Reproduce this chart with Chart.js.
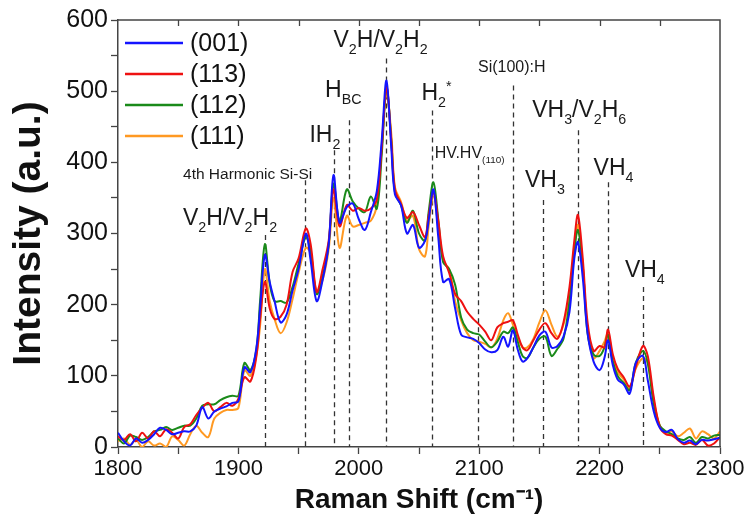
<!DOCTYPE html>
<html>
<head>
<meta charset="utf-8">
<script src="https://cdn.jsdelivr.net/npm/chart.js@4.4.1/dist/chart.umd.min.js"></script>
<style>
  html, body { margin: 0; padding: 0; background: #fff; }
</style>
</head>
<body>
<canvas id="ramanChart" width="751" height="521"></canvas>
<script>
// Raman shift grid (cm-1), shared by all four spectra
const shift = [
  1800, 1805, 1810, 1815, 1820, 1825, 1830, 1835, 1840, 1845,
  1850, 1855, 1860, 1865, 1870, 1875, 1880, 1885, 1890, 1895,
  1900, 1905, 1910, 1915, 1918, 1922, 1926, 1930, 1935, 1940,
  1945, 1950, 1956, 1960, 1965, 1970, 1975, 1979, 1984, 1990,
  1995, 2000, 2005, 2010, 2015, 2019, 2023, 2027, 2030, 2035,
  2040, 2045, 2050, 2055, 2058, 2062, 2066, 2070, 2075, 2080,
  2085, 2090, 2095, 2100, 2105, 2110, 2115, 2120, 2124, 2128,
  2132, 2136, 2140, 2145, 2150, 2155, 2160, 2165, 2170, 2175,
  2179, 2182, 2186, 2190, 2195, 2200, 2204, 2207, 2211, 2215,
  2220, 2225, 2230, 2236, 2240, 2245, 2250, 2255, 2260, 2265,
  2270, 2275, 2280, 2285, 2290, 2295, 2300
];

const labels = ['(001)', '(113)', '(112)', '(111)'];

const i001 = [
  20, 8, 2, 12, 6, 10, 18, 27, 24, 18,
  20, 22, 22, 30, 56, 40, 50, 54, 57, 62,
  64, 112, 105, 140, 195, 270, 232, 205, 175, 186,
  220, 250, 300, 262, 205, 235, 285, 382, 315, 337,
  342, 320, 305, 330, 360, 430, 515, 420, 355, 340,
  300, 312, 280, 290, 318, 362, 295, 232, 236, 195,
  158, 154, 152, 146, 137, 133, 136, 155, 141, 164,
  137, 120, 125, 140, 157, 162, 140, 142, 155, 190,
  265, 288, 238, 160, 120, 108, 125, 150, 115, 95,
  88, 75, 118, 128, 94, 50, 27, 21, 24, 11,
  6, 9, 4, 10, 9, 11, 13
];

const i113 = [
  15, 10, 18, 8, 20, 12, 22, 15, 25, 20,
  12, 28, 32, 45, 55, 62, 50, 56, 62, 58,
  68, 98, 92, 128, 180, 232, 195, 180, 183, 200,
  246, 265, 307, 285, 218, 250, 290, 362, 310, 340,
  332, 336, 332, 335, 348, 420, 505, 430, 362, 342,
  322, 330, 312, 295, 325, 358, 318, 268, 245, 215,
  205, 190, 180, 172, 162, 150, 168, 174, 176, 178,
  158, 140, 136, 150, 165, 174, 160, 152, 175, 225,
  290, 326, 265, 175, 135, 142, 140, 165, 130, 110,
  98, 85, 112, 142, 128, 70, 28, 18, 16, 10,
  4, 6, 3, 10, 2, 5, 14
];

const i112 = [
  12, 5, 16, 14, 10, 14, 22, 24, 28, 24,
  27, 30, 30, 40, 58, 60, 60, 66, 70, 72,
  72, 118, 108, 138, 205, 285, 230, 205, 205, 203,
  225, 258, 295, 275, 215, 240, 285, 370, 318, 362,
  345, 335, 330, 352, 335, 410, 505, 430, 358, 340,
  315, 332, 300, 290, 330, 372, 320, 260, 250, 228,
  182, 165, 160, 158, 148, 140, 148, 162, 160, 168,
  148, 128, 125, 140, 152, 155, 128, 138, 152, 205,
  275, 305, 255, 160, 130, 128, 140, 158, 120, 100,
  90, 80, 118, 135, 118, 60, 30, 22, 18, 12,
  10, 14, 6, 14, 12, 16, 17
];

const i111 = [
  8, 12, 3, 10, 0, 8, 2, 5, 0, 15,
  10, 2, 18, 30, 20, 14, 40, 48, 52, 52,
  55, 108, 100, 130, 170, 250, 205, 180, 160, 175,
  208, 245, 280, 272, 218, 235, 278, 350, 280, 325,
  310, 312, 315, 318, 340, 420, 498, 440, 365, 345,
  318, 325, 278, 268, 310, 352, 310, 262, 250, 205,
  178, 160, 150, 148, 145, 140, 152, 178, 188, 172,
  155, 140, 140, 152, 175, 192, 172, 155, 172, 215,
  280, 312, 255, 165, 125, 135, 148, 160, 125, 105,
  95, 82, 110, 125, 118, 65, 30, 20, 22, 15,
  20, 26, 12, 22, 18, 12, 22
];

// assigned vibrational modes: position of dashed marker and its label
const markShift = [1922, 1955, 1979, 1992, 2023, 2061, 2099, 2128, 2153, 2182, 2207, 2236];
const markText = ['V_2H/V_2H_2', '4th Harmonic Si-Si', 'IH_2', 'H_{BC}', 'V_2H/V_2H_2', 'H_2^*',
  'HV.HV_{(110)}', 'Si(100):H', 'VH_3', 'VH_3/V_2H_6', 'VH_4', 'VH_4'];

// where each marker line starts and where its label sits (axis units)
const noteLayout = [
  { top: 298, tx: 1854, ty: 312, size: 23 },
  { top: 375, tx: 1854, ty: 377, size: 15.5 },
  { top: 417, tx: 1959, ty: 428, size: 23 },
  { top: 459, tx: 1972, ty: 492, size: 23 },
  { top: 546, tx: 1979, ty: 562, size: 23 },
  { top: 473, tx: 2052, ty: 487, size: 23 },
  { top: 396, tx: 2063, ty: 406, size: 16 },
  { top: 508, tx: 2099, ty: 527, size: 16 },
  { top: 347, tx: 2138, ty: 365, size: 23 },
  { top: 445, tx: 2144, ty: 463, size: 23 },
  { top: 372, tx: 2195, ty: 382, size: 23 },
  { top: 225, tx: 2221, ty: 239, size: 23 }
];

const FONT = '"Liberation Sans", Arial, sans-serif';
const colors = ['#1414ff', '#ee1111', '#1a8a1a', '#ff9922'];

function toPoints(vals) {
  return vals.map((v, i) => ({ x: shift[i], y: v }));
}

// draw text with _sub and ^sup parts
function drawRich(ctx, str, x, y, size) {
  let i = 0, cx = x;
  while (i < str.length) {
    const ch = str[i];
    if (ch === '_' || ch === '^') {
      i++;
      let t;
      if (str[i] === '{') {
        const j = str.indexOf('}', i);
        t = str.slice(i + 1, j);
        i = j + 1;
      } else {
        t = str[i];
        i++;
      }
      ctx.font = (size * 0.62) + 'px ' + FONT;
      ctx.fillText(t, cx, ch === '_' ? y + size * 0.3 : y - size * 0.42);
      cx += ctx.measureText(t).width;
    } else {
      let j = i;
      while (j < str.length && str[j] !== '_' && str[j] !== '^') j++;
      const t = str.slice(i, j);
      i = j;
      ctx.font = size + 'px ' + FONT;
      ctx.fillText(t, cx, y);
      cx += ctx.measureText(t).width;
    }
  }
}

const decor = {
  id: 'decor',
  beforeDatasetsDraw(chart) {
    const { ctx, chartArea: a, scales: { x, y } } = chart;
    ctx.save();
    ctx.strokeStyle = '#333';
    ctx.lineWidth = 1.3;
    ctx.setLineDash([5, 4]);
    markShift.forEach((s, i) => {
      const px = Math.round(x.getPixelForValue(s)) + 0.5;
      ctx.beginPath();
      ctx.moveTo(px, y.getPixelForValue(noteLayout[i].top));
      ctx.lineTo(px, a.bottom);
      ctx.stroke();
    });
    ctx.restore();
  },
  afterDraw(chart) {
    const { ctx, chartArea: a, scales: { x, y } } = chart;
    ctx.save();
    // top and right frame, inward ticks on top
    ctx.strokeStyle = '#444';
    ctx.lineWidth = 1.5;
    ctx.beginPath();
    ctx.moveTo(a.left, a.top);
    ctx.lineTo(a.right, a.top);
    ctx.lineTo(a.right, a.bottom);
    ctx.stroke();
    ctx.lineWidth = 1.3;
    for (let v = 1850; v < 2300; v += 50) {
      const px = Math.round(x.getPixelForValue(v)) + 0.5;
      ctx.beginPath();
      ctx.moveTo(px, a.top);
      ctx.lineTo(px, a.top + 6);
      ctx.stroke();
    }
    // mode labels
    ctx.fillStyle = '#1a1a1a';
    ctx.textBaseline = 'alphabetic';
    ctx.textAlign = 'left';
    markText.forEach((t, i) => {
      const n = noteLayout[i];
      drawRich(ctx, t, x.getPixelForValue(n.tx), y.getPixelForValue(n.ty), n.size);
    });
    // legend inside the plot
    ctx.textBaseline = 'middle';
    chart.data.datasets.forEach((ds, i) => {
      const yy = a.top + 23 + i * 31;
      ctx.strokeStyle = ds.borderColor;
      ctx.lineWidth = 2.5;
      ctx.beginPath();
      ctx.moveTo(a.left + 7, yy);
      ctx.lineTo(a.left + 65, yy);
      ctx.stroke();
      ctx.fillStyle = '#111';
      ctx.font = '25px ' + FONT;
      ctx.fillText(ds.label, a.left + 72, yy + 1);
    });
    ctx.restore();
  }
};

const series = [i001, i113, i112, i111];

new Chart(document.getElementById('ramanChart'), {
  type: 'line',
  data: {
    datasets: series.map((vals, i) => ({
      label: labels[i],
      data: toPoints(vals),
      borderColor: colors[i],
      backgroundColor: colors[i],
      borderWidth: 2,
      pointRadius: 0,
      tension: 0.35,
      fill: false
    }))
  },
  options: {
    responsive: false,
    animation: false,
    layout: { padding: { left: 4, top: 20, right: 31, bottom: 0 } },
    plugins: {
      legend: { display: false },
      tooltip: { enabled: false }
    },
    scales: {
      x: {
        type: 'linear',
        min: 1800,
        max: 2300,
        ticks: {
          stepSize: 50,
          autoSkip: false,
          maxRotation: 0,
          padding: 2,
          color: '#111',
          font: { family: FONT, size: 22 },
          callback: v => (v % 100 === 0 ? v : '')
        },
        grid: { drawOnChartArea: false, tickLength: 7, color: '#444', tickWidth: 1.3 },
        border: { color: '#444', width: 1.5 },
        title: {
          display: true,
          text: 'Raman Shift (cm\u207B\u00B9)',
          color: '#111',
          font: { family: FONT, size: 28, weight: 'bold' },
          padding: { top: 0, bottom: 4 }
        },
        afterFit: s => { s.height = 74; }
      },
      y: {
        min: 0,
        max: 600,
        ticks: {
          stepSize: 50,
          autoSkip: false,
          padding: 3,
          color: '#111',
          font: { family: FONT, size: 25 },
          callback: v => (v % 100 === 0 ? v : '')
        },
        grid: { drawOnChartArea: false, tickLength: 7, color: '#444', tickWidth: 1.3 },
        border: { color: '#444', width: 1.5 },
        title: {
          display: true,
          text: 'Intensity (a.u.)',
          color: '#111',
          font: { family: FONT, size: 39, weight: 'bold' },
          padding: { top: 2, bottom: 0 }
        },
        afterFit: s => { s.width = 114; }
      }
    }
  },
  plugins: [decor]
});
</script>
</body>
</html>
